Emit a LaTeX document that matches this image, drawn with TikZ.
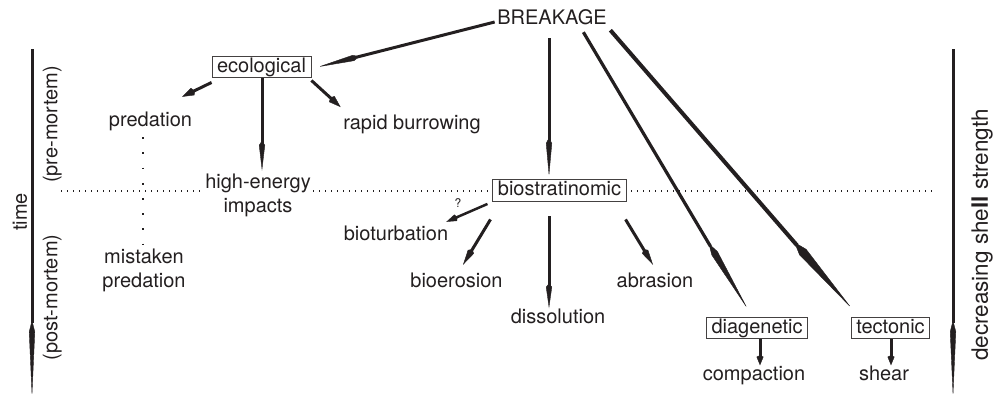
\documentclass[tikz,border=0pt]{standalone}
\usepackage{fontspec}
\setmainfont{TeX Gyre Heros}
\usetikzlibrary{arrows.meta}
\definecolor{ink}{RGB}{35,31,32}

\begin{document}
\begin{tikzpicture}[x=1pt,y=-1pt,
	lbl/.style={font=\fontsize{20}{24}\selectfont, text=ink, inner sep=0pt, text height=14.5pt, text depth=4pt},
	twoline/.style={font=\fontsize{20}{24}\selectfont, text=ink, inner sep=0pt, align=center},
	boxed/.style={lbl, draw=ink!85, line width=0.9pt, inner xsep=5pt, inner ysep=1.5pt, fill=white},
	arr/.style n args={3}{ink, line width=#1, -{Kite[length=#2, width=#3, inset'=0pt 0.15, line width=0.4pt]}},
	hdots/.style={ink, line width=1.2pt, dash pattern=on 1.2pt off 4.8pt},
	vdots/.style={ink, line width=1.8pt, dash pattern=on 1.8pt off 13.4pt}]
			\useasboundingbox (0,0) rectangle (995,400);
			\draw[hdots] (61,191) -- (935,191);
			\node[lbl] (brk) at (552,18.75) {BREAKAGE};
			\node[boxed] (eco) at (261.5,67) {ecological};
			\node[lbl] (pred) at (150.5,120.75) {predation};
			\node[lbl] (rapid) at (412,123.75) {rapid burrowing};
			\node[twoline, fill=white] (high) at (258,195) {high-energy\\impacts};
			\node[twoline] (mist) at (144,270) {mistaken\\predation};
			\node[boxed] (bio) at (559.5,190.5) {biostratinomic};
			\node[lbl] (turb) at (396,234.75) {bioturbation};
			\node[lbl] (eros) at (456.5,281.75) {bioerosion};
			\node[lbl] (diss) at (558,317.75) {dissolution};
			\node[lbl] (abr) at (655,281.75) {abrasion};
			\node[boxed] (dia) at (757,328) {diagenetic};
			\node[boxed] (tec) at (890.5,328) {tectonic};
			\node[lbl] (comp) at (754,374.75) {compaction};
			\node[lbl] (shear) at (884,374.75) {shear};
			\node[font=\fontsize{12}{14}\selectfont, text=ink, inner sep=0pt] (qm) at (458,203) {?};
			\node[lbl, rotate=90] (time) at (21.75,212) {time};
			\node[lbl, rotate=90] (pre) at (52,124.5) {(pre-mortem)};
			\node[lbl, rotate=90] (post) at (52,297.5) {(post-mortem)};
			\node[lbl, font=\fontsize{22.5}{27}\selectfont, rotate=90] (shell) at (982.5,235) {decreasing she\textbf{ll} strength};
			\coordinate (dotT) at ([xshift=-7.5pt,yshift=-7pt]pred.south);
			\coordinate (dotB) at (dotT |- mist.north);
			\draw[vdots] (dotT) -- (dotB);
			\coordinate (tTop) at (32,49);
			\coordinate (tBot) at (32,398);
			\coordinate (sTop) at (953,49);
			\coordinate (sBot) at (953,398);
			\draw[arr={3pt}{78pt}{6pt}] (tTop) -- (tBot);
			\draw[arr={3pt}{78pt}{6pt}] (sTop) -- (sBot);
			\draw[arr={3pt}{43pt}{6pt}] ([xshift=-2.5pt,yshift=-3.25pt]brk.west) -- ([xshift=6.5pt]eco.east);
			\draw[arr={3pt}{39pt}{6pt}] ([xshift=-3pt,yshift=-10pt]brk.south) -- ([xshift=-10.5pt,yshift=2.75pt]bio.north);
			\draw[arr={3.2pt}{77pt}{7pt}] ([xshift=-23.5pt,yshift=-4pt]brk.south east) -- ([xshift=-9pt,yshift=7.25pt]dia.north);
			\draw[arr={4pt}{88pt}{9pt}] ([xshift=3.5pt,yshift=-2pt]brk.south east) -- ([xshift=1pt,yshift=8.25pt]tec.north west);
			\draw[arr={3pt}{14pt}{8pt}] ([yshift=-4.25pt]eco.south west) -- ([xshift=31.5pt,yshift=14.5pt]pred.north);
			\draw[arr={3pt}{14pt}{8pt}] ([yshift=-2.25pt]eco.south east) -- ([xshift=-2.5pt,yshift=7.25pt]rapid.north west);
			\draw[arr={3pt}{30pt}{6pt}] ([xshift=0.5pt]eco.south) -- ([xshift=4pt,yshift=2.6pt]high.north);
			\draw[arr={2.5pt}{12pt}{7pt}] ([xshift=-5pt,yshift=-2.25pt]bio.south west) -- ([xshift=-2pt,yshift=3.5pt]turb.north east);
			\draw[arr={3pt}{18pt}{7pt}] ([xshift=-2pt,yshift=-17.75pt]bio.south west) -- ([xshift=6.5pt,yshift=7.5pt]eros.north);
			\draw[arr={3pt}{25pt}{6pt}] ([xshift=-10.5pt,yshift=-14.75pt]bio.south) -- ([xshift=-9pt]diss.north);
			\draw[arr={3pt}{18pt}{7pt}] ([xshift=-1pt,yshift=-17.75pt]bio.south east) -- ([xshift=-2pt,yshift=7.5pt]abr.north);
			\draw[arr={3pt}{10pt}{7pt}] ([xshift=3pt]dia.south) -- ([xshift=6pt]comp.north);
			\draw[arr={3pt}{10pt}{7pt}] ([xshift=0.5pt]tec.south) -- ([xshift=7pt]shear.north);
		\end{tikzpicture}
\end{document}
